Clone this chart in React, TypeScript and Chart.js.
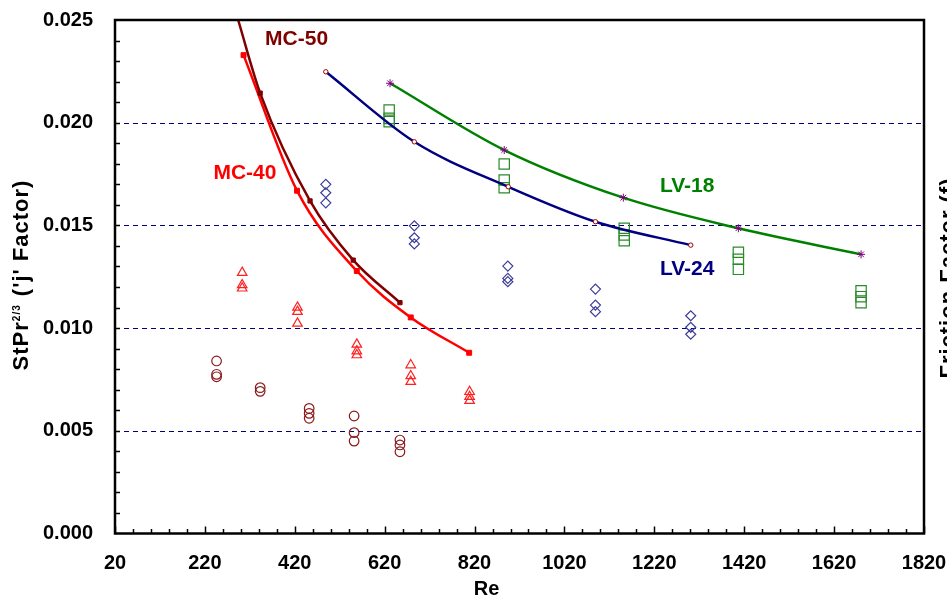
import React, { useEffect, useRef } from 'react';
import { Chart, registerables } from 'chart.js';

Chart.register(...registerables);

// Axis ticks
const xTickValues = [20, 220, 420, 620, 820, 1020, 1220, 1420, 1620, 1820];
const yTickValues = [0, 0.005, 0.01, 0.015, 0.02, 0.025];
const gridValues = [0.005, 0.01, 0.015, 0.02];

// Correlation curves
const mc50Re = [294, 343, 454, 550, 654];
const mc50J = [0.025, 0.02144, 0.01619, 0.01331, 0.01124];
const mc50Marker = [0, 3, 3, 3, 3];

const mc40Re = [306, 425, 558, 678, 808];
const mc40J = [0.02329, 0.01669, 0.01278, 0.01052, 0.0088];

const lv24Re = [489, 686, 895, 1089, 1301];
const lv24J = [0.02248, 0.01907, 0.01688, 0.01518, 0.01404];

const lv18Re = [632, 886, 1151, 1407, 1680];
const lv18J = [0.02192, 0.01867, 0.01635, 0.01486, 0.01359];

// Experimental points
const circRe = [246, 246, 246, 343, 343, 452, 452, 452, 552, 552, 552, 654, 654, 654];
const circJ = [0.0084, 0.00775, 0.00763, 0.0071, 0.00692, 0.00609, 0.00585, 0.00561, 0.00572, 0.00491, 0.0045, 0.00455, 0.00431, 0.00398];

const triRe = [303, 303, 303, 426, 426, 426, 558, 558, 558, 678, 678, 678, 809, 809, 809];
const triJ = [0.0127, 0.0121, 0.01194, 0.01101, 0.0108, 0.01023, 0.00921, 0.00888, 0.00869, 0.0082, 0.00767, 0.00739, 0.0069, 0.00666, 0.00647];

const diaRe = [489, 489, 489, 686, 686, 686, 894, 894, 894, 1089, 1089, 1089, 1301, 1301, 1301];
const diaJ = [0.017, 0.01659, 0.0161, 0.01498, 0.0144, 0.0141, 0.01302, 0.01242, 0.01226, 0.0119, 0.01112, 0.0108, 0.0106, 0.01004, 0.0097];

const sqRe = [630, 630, 630, 886, 886, 886, 1153, 1153, 1153, 1407, 1407, 1407, 1680, 1680, 1680];
const sqJ = [0.02062, 0.02021, 0.02005, 0.01799, 0.01721, 0.01683, 0.01486, 0.01453, 0.01425, 0.01369, 0.01335, 0.01286, 0.01182, 0.01153, 0.01124];

// Curve labels
const curveLabels = ['MC-50', 'MC-40', 'LV-18', 'LV-24'];
const curveLabelRe = [424, 309, 1293, 1293];
const curveLabelJ = [0.02407, 0.01755, 0.01692, 0.01288];
const curveLabelColors = ['#800000', '#ff0000', '#008000', '#000080'];

const FONT = '"Liberation Sans", Arial, sans-serif';

const pts = (xs: number[], ys: number[]) => xs.map((x, i) => ({ x, y: ys[i] }));

const zeroPadding = (s: any) => {
  s.paddingTop = 0;
  s.paddingBottom = 0;
  s.paddingLeft = 0;
  s.paddingRight = 0;
};

const framePlugin = {
  id: 'framePlugin',
  beforeDatasetsDraw(chart: any) {
    const { ctx, chartArea: a, scales } = chart;
    const y = scales.y;
    ctx.save();
    ctx.strokeStyle = '#000080';
    ctx.lineWidth = 1;
    ctx.setLineDash([5, 4]);
    for (const v of gridValues) {
      const py = Math.round(y.getPixelForValue(v)) + 0.5;
      ctx.beginPath();
      ctx.moveTo(a.left, py);
      ctx.lineTo(a.right, py);
      ctx.stroke();
    }
    ctx.restore();
  },
  afterDraw(chart: any) {
    const { ctx, chartArea: a, scales } = chart;
    const x = scales.x;
    const y = scales.y;
    ctx.save();
    // frame
    ctx.strokeStyle = '#000';
    ctx.lineWidth = 2.5;
    ctx.strokeRect(a.left, a.top, a.right - a.left, a.bottom - a.top);
    // ticks
    ctx.lineWidth = 1.5;
    for (let v = 20; v <= 1820; v += 40) {
      const px = Math.round(x.getPixelForValue(v)) + 0.5;
      const major = (v - 20) % 200 === 0;
      ctx.beginPath();
      ctx.moveTo(px, a.bottom);
      ctx.lineTo(px, a.bottom - (major ? 7 : 4.5));
      ctx.stroke();
    }
    for (let k = 1; k < 25; k++) {
      const py = Math.round(y.getPixelForValue(k * 0.001)) + 0.5;
      ctx.beginPath();
      ctx.moveTo(a.left, py);
      ctx.lineTo(a.left + 5, py);
      ctx.stroke();
    }
    // curve labels
    ctx.font = `bold 21px ${FONT}`;
    ctx.textAlign = 'center';
    ctx.textBaseline = 'middle';
    curveLabels.forEach((t, i) => {
      ctx.fillStyle = curveLabelColors[i];
      ctx.fillText(t, x.getPixelForValue(curveLabelRe[i]), y.getPixelForValue(curveLabelJ[i]));
    });
    // x title
    ctx.fillStyle = '#000';
    ctx.font = `bold 20px ${FONT}`;
    ctx.fillText('Re', 486.5, 589);
    // left title with superscript
    const big = `bold 22px ${FONT}`;
    const small = `bold 10px ${FONT}`;
    (ctx as any).letterSpacing = '1px';
    ctx.textAlign = 'left';
    ctx.textBaseline = 'alphabetic';
    ctx.font = big;
    const w1 = ctx.measureText('StPr').width;
    const w3 = ctx.measureText(" ('j' Factor)").width;
    ctx.font = small;
    const w2 = ctx.measureText('2/3').width + 1;
    const total = w1 + w2 + w3;
    ctx.translate(28, 275);
    ctx.rotate(-Math.PI / 2);
    let cx = -total / 2;
    ctx.font = big;
    ctx.fillText('StPr', cx, 0);
    cx += w1;
    ctx.font = small;
    ctx.fillText('2/3', cx, -8);
    cx += w2;
    ctx.font = big;
    ctx.fillText(" ('j' Factor)", cx, 0);
    ctx.restore();
    // right title (cut off at the edge)
    ctx.save();
    (ctx as any).letterSpacing = '1px';
    ctx.fillStyle = '#000';
    ctx.font = `bold 22px ${FONT}`;
    ctx.textAlign = 'center';
    ctx.textBaseline = 'alphabetic';
    ctx.translate(955, 278);
    ctx.rotate(-Math.PI / 2);
    ctx.fillText('Friction Factor (f)', 0, 0);
    ctx.restore();
  },
};

export default function App() {
  const ref = useRef<HTMLCanvasElement | null>(null);
  useEffect(() => {
    document.body.style.margin = '0';
    const canvas = ref.current;
    if (!canvas) return;
    const lineBase = {
      showLine: true,
      borderWidth: 2.5,
      cubicInterpolationMode: 'monotone' as const,
      pointBorderWidth: 1,
      pointHoverRadius: 0,
    };
    const openBase = {
      showLine: false,
      backgroundColor: 'rgba(0,0,0,0)',
      pointBorderWidth: 1.2,
    };
    const chart = new Chart(canvas, {
      type: 'scatter',
      data: {
        datasets: [
          {
            ...lineBase,
            label: 'MC-50',
            data: pts(mc50Re, mc50J),
            borderColor: '#800000',
            backgroundColor: '#800000',
            pointBackgroundColor: '#800000',
            pointBorderColor: '#800000',
            pointStyle: 'rect',
            pointRadius: mc50Marker,
          },
          {
            ...lineBase,
            label: 'MC-40',
            data: pts(mc40Re, mc40J),
            borderColor: '#ff0000',
            backgroundColor: '#ff0000',
            pointBackgroundColor: '#ff0000',
            pointBorderColor: '#ff0000',
            pointStyle: 'rect',
            pointRadius: 3.5,
          },
          {
            ...lineBase,
            label: 'LV-24',
            data: pts(lv24Re, lv24J),
            borderColor: '#000080',
            backgroundColor: '#ffffff',
            pointBackgroundColor: '#ffffff',
            pointBorderColor: '#990000',
            pointStyle: 'circle',
            pointRadius: 2.2,
          },
          {
            ...lineBase,
            label: 'LV-18',
            data: pts(lv18Re, lv18J),
            borderColor: '#008000',
            backgroundColor: '#800080',
            pointBackgroundColor: '#800080',
            pointBorderColor: '#800080',
            pointStyle: 'star',
            pointRadius: 4,
          },
          {
            ...openBase,
            label: 'circles',
            data: pts(circRe, circJ),
            pointBorderColor: '#8b1a1a',
            pointStyle: 'circle',
            pointRadius: 4.8,
          },
          {
            ...openBase,
            label: 'triangles',
            data: pts(triRe, triJ),
            pointBorderColor: '#ff2020',
            pointStyle: 'triangle',
            pointRadius: 5.5,
          },
          {
            ...openBase,
            label: 'diamonds',
            data: pts(diaRe, diaJ),
            pointBorderColor: '#3d3d99',
            pointStyle: 'rectRot',
            pointRadius: 5,
          },
          {
            ...openBase,
            label: 'squares',
            data: pts(sqRe, sqJ),
            pointBorderColor: '#2a8a2a',
            pointStyle: 'rect',
            pointRadius: 7.3,
          },
        ],
      },
      options: {
        animation: false,
        responsive: true,
        maintainAspectRatio: false,
        events: [],
        layout: { padding: { top: 20, right: 23, left: 0, bottom: 0 } },
        plugins: { legend: { display: false }, tooltip: { enabled: false } },
        scales: {
          x: {
            type: 'linear',
            min: 20,
            max: 1820,
            grid: { display: false, drawTicks: false },
            border: { display: false },
            afterBuildTicks: (s: any) => {
              s.ticks = xTickValues.map((v) => ({ value: v }));
            },
            afterFit: (s: any) => {
              s.height = 61.5;
              zeroPadding(s);
            },
            ticks: {
              autoSkip: false,
              maxRotation: 0,
              minRotation: 0,
              padding: 18,
              color: '#000',
              font: { family: FONT, size: 20, weight: 'bold' },
              callback: (v: any) => String(v),
            },
          },
          y: {
            type: 'linear',
            min: 0,
            max: 0.025,
            grid: { display: false, drawTicks: false },
            border: { display: false },
            afterBuildTicks: (s: any) => {
              s.ticks = yTickValues.map((v) => ({ value: v }));
            },
            afterFit: (s: any) => {
              s.width = 115;
              zeroPadding(s);
            },
            ticks: {
              autoSkip: false,
              padding: 22,
              color: '#000',
              font: { family: FONT, size: 20, weight: 'bold' },
              callback: (v: any) => Number(v).toFixed(3),
            },
          },
        },
      },
      plugins: [framePlugin],
    });
    return () => chart.destroy();
  }, []);
  return (
    <div style={{ position: 'relative', width: 947, height: 595, background: '#fff' }}>
      <canvas ref={ref} />
    </div>
  );
}
